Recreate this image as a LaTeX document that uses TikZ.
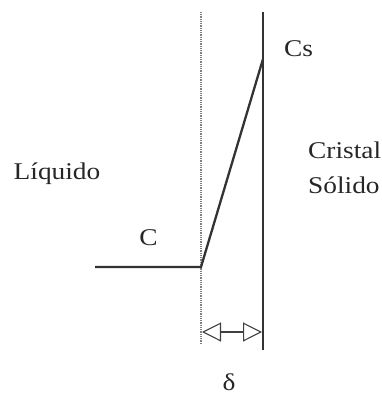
\documentclass[tikz,border=0pt]{standalone}
\usepackage{fontspec}
\setmainfont{Liberation Serif}[FakeStretch=1.14]
\usetikzlibrary{arrows.meta}
\begin{document}
\begin{tikzpicture}[x=1pt,y=-1pt,
  lbl/.style={font=\fontsize{24}{28}\selectfont, inner sep=0pt, anchor=base, text=black!85},
  solidline/.style={line width=2.3pt, color=black!80},
  dotline/.style={line width=2.2pt, color=black!50, dash pattern=on 1pt off 0.8pt},
  dimarrow/.style={line width=1.1pt, color=black!75, {Triangle[open,length=19pt,width=19pt,line width=1.1pt]}-{Triangle[open,length=19pt,width=19pt,line width=1.1pt]}}]
\useasboundingbox (0,0) rectangle (382,399);
% boundaries
\coordinate (dtop) at (201,12);
\coordinate (dbot) at (201,344);
\coordinate (stop) at (263,12);
\coordinate (sbot) at (263,350);
\coordinate (hstart) at (95,267);
\coordinate (corner) at (201,267);
\coordinate (cs) at (263,59);
\coordinate (al) at (202,332);
\coordinate (ar) at (262,332);
\draw[dotline] (dtop) -- (dbot);
\draw[solidline] (stop) -- (sbot);
\draw[solidline] (hstart) -- (corner) -- (cs);
\draw[dimarrow] (al) -- (ar);
% labels
\node[lbl] (liq) at (57,179) {Líquido};
\node[lbl, anchor=base west] (cri) at (308,158) {Cristal};
\node[lbl, anchor=base west] (sol) at (308,193) {Sólido};
\node[lbl] (c) at (148.5,245) {C};
\node[lbl, anchor=base west] (cslbl) at (284,56) {Cs};
\node[lbl] (delta) at (229,390) {δ};
\end{tikzpicture}
\end{document}
